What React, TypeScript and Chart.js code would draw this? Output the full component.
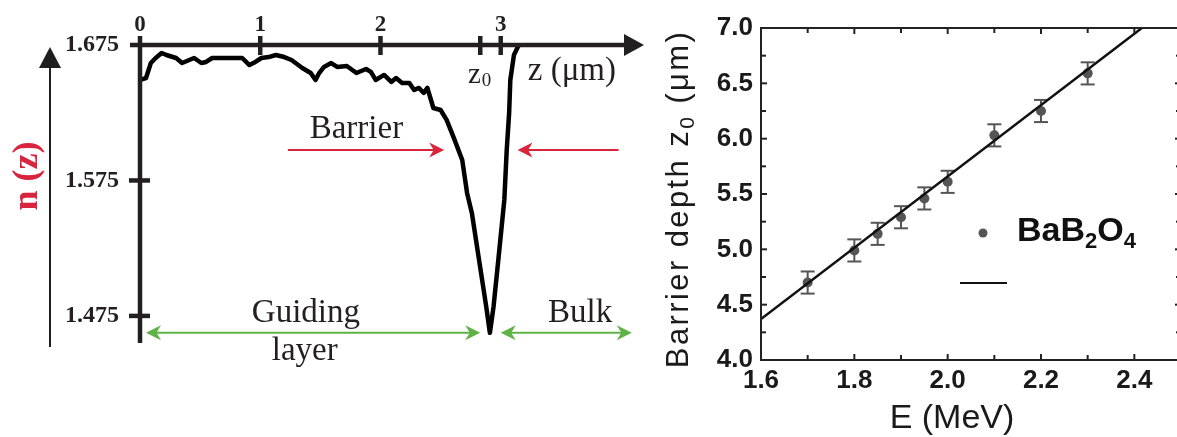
import React, { useEffect, useRef } from 'react';
import { Chart, registerables } from 'chart.js';

Chart.register(...registerables);

// ---------- Left panel: refractive index profile n(z) ----------
const depthZ = [0, 0.05, 0.09, 0.13, 0.18, 0.22, 0.30, 0.35, 0.41, 0.45, 0.51, 0.55, 0.60, 0.85, 0.91, 0.96, 1.01, 1.07, 1.13, 1.20, 1.26, 1.35, 1.42, 1.46, 1.49, 1.53, 1.59, 1.64, 1.72, 1.80, 1.88, 1.92, 1.96, 2.03, 2.09, 2.13, 2.18, 2.24, 2.28, 2.32, 2.36, 2.39, 2.42, 2.44, 2.50, 2.55, 2.61, 2.68, 2.72, 2.76, 2.82, 2.88, 2.91, 2.94, 2.98, 3.03, 3.05, 3.07, 3.08, 3.11, 3.15];
const indexN = [1.6492, 1.6506, 1.6617, 1.6654, 1.6691, 1.6676, 1.6654, 1.6617, 1.6639, 1.6654, 1.6617, 1.6625, 1.6654, 1.6654, 1.6602, 1.6625, 1.6654, 1.6661, 1.6676, 1.6661, 1.6639, 1.6580, 1.6543, 1.6492, 1.6543, 1.6588, 1.6617, 1.6588, 1.6595, 1.6543, 1.6573, 1.6551, 1.6492, 1.6529, 1.6477, 1.6506, 1.6470, 1.6470, 1.6418, 1.6433, 1.6396, 1.6433, 1.6344, 1.6285, 1.6270, 1.6197, 1.6064, 1.5901, 1.5658, 1.5510, 1.5163, 1.4816, 1.4625, 1.4816, 1.5163, 1.5606, 1.5975, 1.6248, 1.6492, 1.6676, 1.6750];
const zTickValues = [0, 1, 2, 3];
const nTickValues = [1.475, 1.575, 1.675];
const z0Value = 2.83;

// ---------- Right panel: barrier depth vs energy ----------
const energyMeV = [1.7, 1.8, 1.85, 1.9, 1.95, 2.0, 2.1, 2.2, 2.3];
const barrierDepth = [4.70, 4.99, 5.14, 5.29, 5.46, 5.61, 6.03, 6.25, 6.59];
const depthError = [0.10, 0.10, 0.10, 0.10, 0.10, 0.10, 0.10, 0.10, 0.10];
const fitEnergy = [1.6, 2.5];
const fitDepth = [4.37, 7.27];
const eTickValues = [1.6, 1.8, 2.0, 2.2, 2.4];
const depthTickValues = [4.0, 4.5, 5.0, 5.5, 6.0, 6.5, 7.0];

const SERIF = '"Liberation Serif", "Times New Roman", serif';
const SANS = '"Liberation Sans", Arial, Helvetica, sans-serif';
const INK = '#231f20';
const RED = '#d8243c';
const GREEN = '#5fb246';

function arrowHead(ctx: CanvasRenderingContext2D, tipX: number, tipY: number, dir: number, len: number, half: number) {
  ctx.beginPath();
  ctx.moveTo(tipX, tipY);
  ctx.lineTo(tipX - dir * len, tipY - half);
  ctx.lineTo(tipX - dir * len * 0.7, tipY);
  ctx.lineTo(tipX - dir * len, tipY + half);
  ctx.closePath();
  ctx.fill();
}

function seg(ctx: CanvasRenderingContext2D, x1: number, y1: number, x2: number, y2: number) {
  ctx.beginPath();
  ctx.moveTo(x1, y1);
  ctx.lineTo(x2, y2);
  ctx.stroke();
}

const leftDecor = {
  id: 'leftDecor',
  afterDraw(chart: any) {
    const ctx: CanvasRenderingContext2D = chart.ctx;
    const xs = chart.scales.x;
    const ys = chart.scales.y;
    const X = (v: number) => xs.getPixelForValue(v);
    const Y = (v: number) => ys.getPixelForValue(v);
    const area = chart.chartArea;
    const top = Y(1.675);
    const x0 = X(0);
    ctx.save();
    ctx.strokeStyle = INK;
    ctx.fillStyle = INK;
    ctx.lineWidth = 4.5;
    // vertical axis
    seg(ctx, x0, top - 9, x0, area.bottom);
    // horizontal axis with arrow
    const tip = area.right - 1;
    seg(ctx, x0 - 10, top, tip - 18, top);
    ctx.beginPath();
    ctx.moveTo(tip, top);
    ctx.lineTo(tip - 20, top - 11);
    ctx.lineTo(tip - 20, top + 11);
    ctx.closePath();
    ctx.fill();
    // tick marks
    [...zTickValues.slice(1), z0Value].forEach((v) => seg(ctx, X(v), top - 9, X(v), top + 10));
    nTickValues.slice(0, 2).forEach((v) => seg(ctx, x0 - 11, Y(v), x0 + 10, Y(v)));

    // up arrow n(z)
    ctx.lineWidth = 2;
    ctx.strokeStyle = '#1e1e1e';
    ctx.fillStyle = '#1e1e1e';
    const ax = 50;
    seg(ctx, ax, area.bottom + 4, ax, 66);
    ctx.beginPath();
    ctx.moveTo(ax, 47);
    ctx.lineTo(ax - 11, 68);
    ctx.lineTo(ax + 11, 68);
    ctx.closePath();
    ctx.fill();

    // n (z) label
    ctx.save();
    ctx.translate(28, 176);
    ctx.rotate(-Math.PI / 2);
    ctx.fillStyle = RED;
    ctx.font = `bold 36px ${SERIF}`;
    ctx.textAlign = 'center';
    ctx.textBaseline = 'middle';
    ctx.fillText('n (z)', 0, 0);
    ctx.restore();

    // red barrier arrows
    ctx.strokeStyle = RED;
    ctx.fillStyle = RED;
    ctx.lineWidth = 2;
    const ry = Y(1.5975);
    const r1a = X(1.23), r1b = X(2.53);
    seg(ctx, r1a, ry, r1b - 10, ry);
    arrowHead(ctx, r1b, ry, 1, 15, 7.5);
    const r2a = X(3.98), r2b = X(3.14);
    seg(ctx, r2a, ry, r2b + 10, ry);
    arrowHead(ctx, r2b, ry, -1, 15, 7.5);

    // green double arrows
    ctx.strokeStyle = GREEN;
    ctx.fillStyle = GREEN;
    const gy = Y(1.4625);
    const pairs = [[0.05, 2.83], [3.0, 4.09]];
    pairs.forEach(([a, b]) => {
      const pa = X(a), pb = X(b);
      seg(ctx, pa + 10, gy, pb - 10, gy);
      arrowHead(ctx, pa, gy, -1, 15, 7.5);
      arrowHead(ctx, pb, gy, 1, 15, 7.5);
    });

    // texts
    ctx.fillStyle = INK;
    ctx.font = `33px ${SERIF}`;
    ctx.textBaseline = 'alphabetic';
    ctx.textAlign = 'center';
    ctx.fillText('Barrier', X(1.80), Y(1.6064));
    ctx.fillText('Guiding', X(1.38), Y(1.4706));
    ctx.fillText('layer', X(1.37), Y(1.4425));
    ctx.fillText('Bulk', X(3.66), Y(1.4706));
    ctx.textAlign = 'left';
    ctx.fillText('z (\u03bcm)', X(3.225), Y(1.6492));
    // z0 label
    ctx.font = `29px ${SERIF}`;
    const zx = X(2.727), zy = Y(1.647);
    ctx.fillText('z', zx, zy);
    const zw = ctx.measureText('z').width;
    ctx.font = `19px ${SERIF}`;
    ctx.fillText('0', zx + zw + 1, zy + 3);
    ctx.restore();
  },
};

const rightDecor = {
  id: 'rightDecor',
  beforeDatasetsDraw(chart: any) {
    const ctx: CanvasRenderingContext2D = chart.ctx;
    const xs = chart.scales.x;
    const ys = chart.scales.y;
    ctx.save();
    ctx.strokeStyle = '#555';
    ctx.lineWidth = 2;
    energyMeV.forEach((e, i) => {
      const px = xs.getPixelForValue(e);
      const hi = ys.getPixelForValue(barrierDepth[i] + depthError[i]);
      const lo = ys.getPixelForValue(barrierDepth[i] - depthError[i]);
      seg(ctx, px, hi, px, lo);
      seg(ctx, px - 7, hi, px + 7, hi);
      seg(ctx, px - 7, lo, px + 7, lo);
    });
    ctx.restore();
  },
  afterDraw(chart: any) {
    const ctx: CanvasRenderingContext2D = chart.ctx;
    const xs = chart.scales.x;
    const ys = chart.scales.y;
    const a = chart.chartArea;
    ctx.save();
    ctx.strokeStyle = '#222';
    ctx.lineWidth = 2;
    ctx.strokeRect(a.left, a.top, a.right - a.left, a.bottom - a.top);
    // inward ticks
    const xMinor = eTickValues.map((v) => v + 0.1);
    const yMinor = depthTickValues.slice(0, -1).map((v) => v + 0.25);
    const tickX = (vals: number[], len: number) => vals.forEach((v) => {
      const p = xs.getPixelForValue(v);
      seg(ctx, p, a.bottom, p, a.bottom - len);
      seg(ctx, p, a.top, p, a.top + len);
    });
    const tickY = (vals: number[], len: number) => vals.forEach((v) => {
      const p = ys.getPixelForValue(v);
      seg(ctx, a.left, p, a.left + len, p);
      seg(ctx, a.right, p, a.right - len, p);
    });
    tickX(eTickValues, 6);
    tickX(xMinor, 5);
    tickY(depthTickValues, 6);
    tickY(yMinor, 5);

    // y title with subscript
    ctx.save();
    ctx.translate(38, (a.top + a.bottom) / 2 + 5);
    ctx.rotate(-Math.PI / 2);
    ctx.fillStyle = '#1a1a1a';
    (ctx as any).letterSpacing = '2.4px';
    const big = `31px ${SANS}`;
    const small = `21px ${SANS}`;
    const parts: [string, string, number][] = [['Barrier depth z', big, 0], ['0', small, 6], [' (\u03bcm)', big, 0]];
    let total = 0;
    parts.forEach(([t, f]) => { ctx.font = f; total += ctx.measureText(t).width; });
    let cx = -total / 2;
    ctx.textBaseline = 'alphabetic';
    ctx.textAlign = 'left';
    parts.forEach(([t, f, dy]) => { ctx.font = f; ctx.fillText(t, cx, dy); cx += ctx.measureText(t).width; });
    ctx.restore();

    // x title
    ctx.save();
    ctx.fillStyle = '#1a1a1a';
    ctx.font = `34px ${SANS}`;
    ctx.textAlign = 'center';
    ctx.textBaseline = 'alphabetic';
    ctx.fillText('E (MeV)', 302, 428);
    ctx.restore();

    // legend
    ctx.fillStyle = '#555';
    ctx.beginPath();
    ctx.arc(333, 233, 4.5, 0, Math.PI * 2);
    ctx.fill();
    ctx.fillStyle = '#111';
    const lg: [string, string, number][] = [['BaB', `bold 34px ${SANS}`, 0], ['2', `bold 22px ${SANS}`, 7], ['O', `bold 34px ${SANS}`, 0], ['4', `bold 22px ${SANS}`, 7]];
    let lx = 367;
    lg.forEach(([t, f, dy]) => { ctx.font = f; ctx.fillText(t, lx, 241 + dy); lx += ctx.measureText(t).width; });
    ctx.strokeStyle = '#111';
    ctx.lineWidth = 2;
    seg(ctx, 310, 283, 357, 283);
    ctx.restore();
  },
};

export default function App() {
  const leftRef = useRef<HTMLCanvasElement>(null);
  const rightRef = useRef<HTMLCanvasElement>(null);

  useEffect(() => {
    const left = new Chart(leftRef.current!, {
      type: 'line',
      data: {
        datasets: [{
          data: depthZ.map((z, i) => ({ x: z, y: indexN[i] })),
          borderColor: '#000',
          borderWidth: 4.5,
          pointRadius: 0,
          tension: 0,
          clip: false as any,
          borderJoinStyle: 'round',
        }],
      },
      options: {
        responsive: false,
        animation: false,
        layout: { padding: { left: 0, right: 15, top: 0, bottom: 94 } },
        plugins: { legend: { display: false }, tooltip: { enabled: false } },
        scales: {
          x: {
            type: 'linear',
            position: 'top',
            min: 0,
            max: 4.2,
            grid: { display: false, drawTicks: false },
            border: { display: false },
            afterBuildTicks: (s: any) => { s.ticks = zTickValues.map((v) => ({ value: v })); },
            afterFit: (s: any) => { s.height = 45; },
            ticks: {
              padding: 6,
              color: INK,
              font: { family: SERIF, weight: 'bold', size: 23 },
              callback: (v: any) => String(v),
            },
          },
          y: {
            type: 'linear',
            min: 1.455,
            max: 1.675,
            grid: { display: false, drawTicks: false },
            border: { display: false },
            afterBuildTicks: (s: any) => { s.ticks = nTickValues.map((v) => ({ value: v })); },
            afterFit: (s: any) => { s.width = 140; },
            ticks: {
              padding: 21,
              color: INK,
              font: { family: SERIF, weight: 'bold', size: 24 },
              callback: (v: any) => Number(v).toFixed(3),
            },
          },
        },
      },
      plugins: [leftDecor],
    } as any);

    const right = new Chart(rightRef.current!, {
      type: 'scatter',
      data: {
        datasets: [
          {
            type: 'line',
            data: fitEnergy.map((e, i) => ({ x: e, y: fitDepth[i] })),
            borderColor: '#111',
            borderWidth: 2.5,
            pointRadius: 0,
            tension: 0,
          },
          {
            data: energyMeV.map((e, i) => ({ x: e, y: barrierDepth[i] })),
            backgroundColor: '#555',
            borderWidth: 0,
            pointRadius: 5,
          },
        ],
      },
      options: {
        responsive: false,
        animation: false,
        layout: { padding: { left: 0, right: 9, top: 28, bottom: 0 } },
        plugins: { legend: { display: false }, tooltip: { enabled: false } },
        scales: {
          x: {
            type: 'linear',
            min: 1.6,
            max: 2.5,
            grid: { display: false, drawTicks: false },
            border: { display: false },
            afterBuildTicks: (s: any) => { s.ticks = eTickValues.map((v) => ({ value: v })); },
            afterFit: (s: any) => { s.height = 77; },
            ticks: {
              padding: 5,
              color: '#1a1a1a',
              font: { family: SANS, weight: 'bold', size: 26 },
              callback: (v: any) => Number(v).toFixed(1),
            },
          },
          y: {
            type: 'linear',
            min: 4.0,
            max: 7.0,
            grid: { display: false, drawTicks: false },
            border: { display: false },
            afterBuildTicks: (s: any) => { s.ticks = depthTickValues.map((v) => ({ value: v })); },
            afterFit: (s: any) => { s.width = 111; },
            ticks: {
              padding: 8,
              color: '#1a1a1a',
              font: { family: SANS, weight: 'bold', size: 26 },
              callback: (v: any) => Number(v).toFixed(1),
            },
          },
        },
      },
      plugins: [rightDecor],
    } as any);

    return () => {
      left.destroy();
      right.destroy();
    };
  }, []);

  return (
    <div style={{ position: 'fixed', left: 0, top: 0, width: 1177, height: 437, overflow: 'hidden', background: '#fff' }}>
      <canvas ref={leftRef} width={660} height={437} style={{ position: 'absolute', left: 0, top: 0 }} />
      <canvas ref={rightRef} width={540} height={437} style={{ position: 'absolute', left: 650, top: 0 }} />
    </div>
  );
}
